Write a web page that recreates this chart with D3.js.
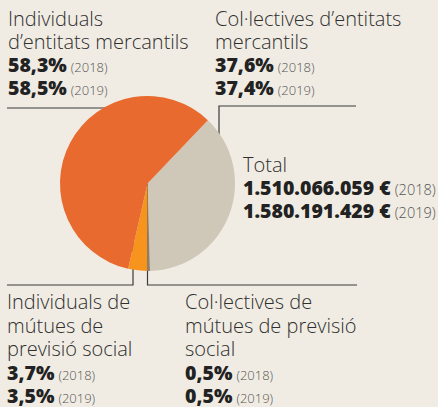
<!DOCTYPE html>
<html>
<head>
<meta charset="utf-8">
<script src="https://cdn.jsdelivr.net/npm/d3@7"></script>
<style>
  body { margin: 0; background: #f0ece3; }
  svg { display: block; }
  text { font-family: "Open Sans", Lato, sans-serif; }
</style>
</head>
<body>
<script>
// Data
var categories = [
  "Col·lectives d’entitats mercantils",
  "Col·lectives de mútues de previsió social",
  "Individuals de mútues de previsió social",
  "Individuals d’entitats mercantils"
];
var values2018 = ["37,6%", "0,5%", "3,7%", "58,3%"];
var values2019 = [37.4, 0.5, 3.5, 58.5];
var years = ["(2018)", "(2019)"];
var totals = ["1.510.066.059 €", "1.580.191.429 €"];

var colors = ["#cfc7b7", "#8c8273", "#f7941d", "#e86a2e"];

var svgWidth = 438;
var svgHeight = 407;
var cx = 147.5, cy = 183.5, radius = 87.5;

var svg = d3.select("body")
  .append("svg")
  .attr("width", svgWidth)
  .attr("height", svgHeight);

// Leader lines (drawn first, pie sits on top)
var lineColor = "#3a3a3a";
var leaders = [
  [[7, 108], [cx, 108]],
  [[356, 106], [219, 106], [219, cy]],
  [[7, 285], [133, 285], [133, cy]],
  [[cx, cy], [cx, 285], [357, 285]]
];
svg.selectAll("path.leader")
  .data(leaders)
  .enter()
  .append("path")
  .attr("class", "leader")
  .attr("d", d3.line())
  .attr("fill", "none")
  .attr("stroke", lineColor)
  .attr("stroke-width", 1.2);

// Pie for 2019 shares
var start = 43.6 * Math.PI / 180;
var pie = d3.pie()
  .sort(null)
  .startAngle(start)
  .endAngle(start + 2 * Math.PI)
  .value(d => d);

var arc = d3.arc().innerRadius(0).outerRadius(radius);

svg.append("g")
  .attr("transform", `translate(${cx}, ${cy})`)
  .selectAll("path")
  .data(pie(values2019))
  .enter()
  .append("path")
  .attr("d", arc)
  .attr("fill", (d, i) => colors[i]);

// Labels
function fmt(v) { return v.toFixed(1).replace(".", ",") + "%"; }

function label(x, y0, lines, pct, step, yearSize) {
  var g = svg.append("g");
  lines.forEach(function(t, i) {
    g.append("text")
      .attr("x", x).attr("y", y0 + i * step)
      .attr("font-size", 20)
      .attr("font-weight", 300)
      .attr("fill", "#2f2f2f")
      .text(t);
  });
  pct.forEach(function(p, j) {
    var t = g.append("text")
      .attr("x", x).attr("y", y0 + (lines.length + j) * step)
      .attr("fill", "#222");
    t.append("tspan")
      .attr("font-size", 19.5)
      .attr("font-weight", 800)
      .text(p);
    t.append("tspan")
      .attr("font-size", yearSize)
      .attr("font-weight", 300)
      .attr("fill", "#555")
      .attr("dx", 4)
      .text(years[j]);
  });
}

label(8, 26, ["Individuals", "d’entitats mercantils"], [values2018[3], fmt(values2019[3])], 23, 13);
label(215, 26, ["Col·lectives d’entitats", "mercantils"], [values2018[0], fmt(values2019[0])], 23, 13);
label(7, 309, ["Individuals de", "mútues de", "previsió social"], [values2018[2], fmt(values2019[2])], 23.5, 13);
label(185, 309, ["Col·lectives de", "mútues de previsió", "social"], [values2018[1], fmt(values2019[1])], 23.5, 13);
label(243, 172, ["Total"], totals, 23, 14.5);
</script>
</body>
</html>
